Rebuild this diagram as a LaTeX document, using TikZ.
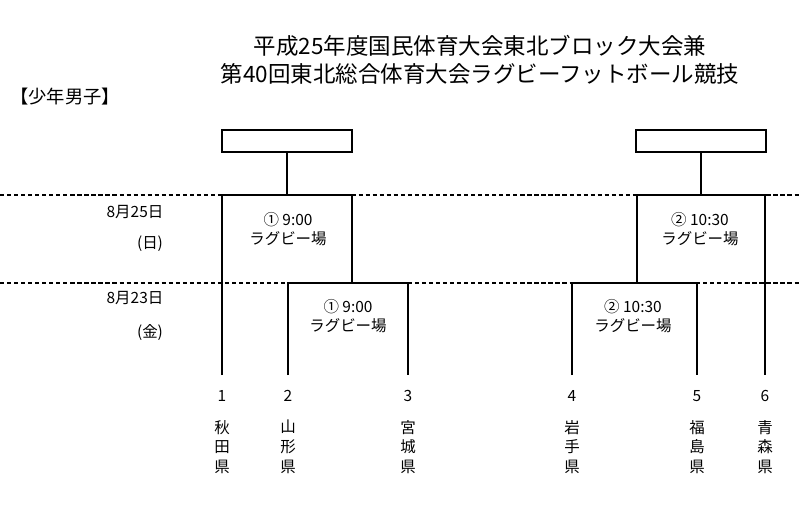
\documentclass[tikz,border=0pt]{standalone}
\usepackage{fontspec}
\setmainfont{Noto Sans CJK JP}
\usetikzlibrary{positioning}

\tikzset{
  lbl/.style={font=\fontsize{11}{13}\selectfont, align=center, inner sep=1pt},
  pref/.style={font=\fontsize{11}{14}\selectfont, align=center, inner sep=0pt, anchor=north},
  num/.style={font=\fontsize{11}{13}\selectfont, inner sep=1pt},
  box/.style={draw, thick, minimum width=3.25cm, minimum height=0.55cm},
  bk/.style={thick},
}

\begin{document}
\begin{tikzpicture}[x=0.025cm, y=-0.025cm]
  \useasboundingbox (0,0) rectangle (800,518);

  % title
  \node[font=\fontsize{16}{20}\selectfont, align=center] (title) at (480,60)
    {平成25年度国民体育大会東北ブロック大会兼\\第40回東北総合体育大会ラグビーフットボール競技};
  \node[font=\fontsize{13}{15}\selectfont, anchor=west, inner sep=0pt] (cat) at (10,97) {【少年男子】};

  % day lines
  \draw[dashed, thick, dash pattern=on 3pt off 2pt] (0,195) -- (800,195);
  \draw[dashed, thick, dash pattern=on 3pt off 2pt] (0,283) -- (800,283);

  % dates
  \node[lbl] (d1) at (135,212) {8月25日};
  \node[lbl] (w1) at (150,244) {(日)};
  \node[lbl] (d2) at (135,298) {8月23日};
  \node[lbl] (w2) at (150,333) {(金)};

  % teams
  \foreach \n/\x/\p in {1/222/秋\\田\\県, 2/288/山\\形\\県, 3/408/宮\\城\\県,
                        4/572/岩\\手\\県, 5/697/福\\島\\県, 6/765/青\\森\\県} {
    \coordinate (t\n) at (\x,375);
    \node[num] (n\n) at (\x,396) {\n};
    \node[pref] (p\n) at (\x,420) {\p};
  }

  % result boxes
  \node[box] (winA) at (287,141) {};
  \node[box] (winB) at (701,141) {};

  % left block
  \coordinate (a1) at (222,195);
  \coordinate (a2) at (352,195);
  \coordinate (a3) at (352,283);
  \coordinate (a4) at (288,283);
  \coordinate (a5) at (408,283);
  \coordinate (a0) at (287,195);
  \draw[bk] (winA.south) -- (a0);
  \draw[bk] (t1) -- (a1) -- (a2) -- (a3);
  \draw[bk] (t2) -- (a4) -- (a5) -- (t3);

  % right block
  \coordinate (b1) at (637,195);
  \coordinate (b2) at (765,195);
  \coordinate (b3) at (637,283);
  \coordinate (b4) at (572,283);
  \coordinate (b5) at (697,283);
  \coordinate (b0) at (701,195);
  \draw[bk] (winB.south) -- (b0);
  \draw[bk] (b3) -- (b1) -- (b2) -- (t6);
  \draw[bk] (t4) -- (b4) -- (b5) -- (t5);

  % match labels
  \node[lbl] (m1) at (288,229) {① 9:00\\ラグビー場};
  \node[lbl] (m2) at (348,316) {① 9:00\\ラグビー場};
  \node[lbl] (m3) at (700,229) {② 10:30\\ラグビー場};
  \node[lbl] (m4) at (633,316) {② 10:30\\ラグビー場};
\end{tikzpicture}
\end{document}
